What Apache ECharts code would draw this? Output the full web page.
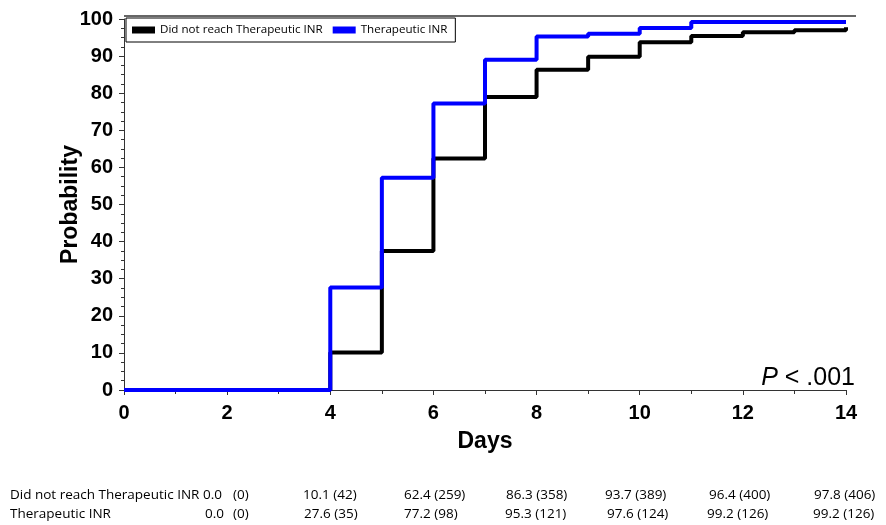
<!DOCTYPE html>
<html lang="en">
  <head>
    <meta charset="UTF-8" />
    <title>Time to therapeutic INR</title>
    <style>
      html, body { margin: 0; padding: 0; background: #fff; }
      #container { width: 886px; height: 525px; }
    </style>
    <script src="https://cdn.jsdelivr.net/npm/echarts@6.0.0/dist/echarts.min.js"></script>
  </head>
  <body>
    <div id="container"></div>
    <script>
      // step curves, value at each day (jump happens at that day)
      const days = [0, 1, 2, 3, 4, 5, 6, 7, 8, 9, 10, 11, 12, 13, 14]
      const notReached = [0, 0, 0, 0, 10.1, 37.5, 62.4, 79, 86.3, 89.8, 93.7, 95.4, 96.4, 97.0, 97.8]
      const reached = [0, 0, 0, 0, 27.6, 57.2, 77.2, 89, 95.3, 96.0, 97.6, 99.2, 99.2, 99.2, 99.2]

      // table under the chart
      const rowNames = ['Did not reach Therapeutic INR', 'Therapeutic INR']
      const tableNotReached = ['0.0', '(0)', '10.1 (42)', '62.4 (259)', '86.3 (358)', '93.7 (389)', '96.4 (400)', '97.8 (406)']
      const tableReached = ['0.0', '(0)', '27.6 (35)', '77.2 (98)', '95.3 (121)', '97.6 (124)', '99.2 (126)', '99.2 (126)']

      const chart = echarts.init(document.getElementById('container'))

      const boldFont = 'Liberation Sans'
      const tableFont = 'Open Sans'

      // column left edges for the table text
      const colX = [[203, 233, 303, 404, 506, 605, 709, 814], [205, 233, 304, 404, 505, 607, 707, 813]]
      const rowY = [498, 517]
      const tableGraphics = []
      rowNames.forEach(function (name, r) {
        tableGraphics.push({
          type: 'text', left: 10, top: rowY[r] - 10,
          style: { text: name, font: '13.5px "' + tableFont + '"', fill: '#000' }
        })
        const vals = r === 0 ? tableNotReached : tableReached
        vals.forEach(function (v, c) {
          tableGraphics.push({
            type: 'text', left: colX[r][c], top: rowY[r] - 10,
            style: { text: v, font: '13.5px "' + tableFont + '"', fill: '#000' }
          })
        })
      })

      const option = {
        animation: false,
        grid: { left: 124, right: 40, top: 19, bottom: 135 },
        legend: {
          left: 126,
          top: 18,
          orient: 'horizontal',
          icon: 'rect',
          itemWidth: 23,
          itemHeight: 7,
          itemGap: 10,
          padding: [6, 8, 6, 6],
          borderColor: '#000',
          borderWidth: 1,
          backgroundColor: '#fff',
          textStyle: { fontFamily: tableFont, fontSize: 11.6, color: '#000' },
          data: rowNames
        },
        xAxis: {
          type: 'value',
          min: 0,
          max: 14,
          interval: 2,
          name: 'Days',
          nameLocation: 'middle',
          nameGap: 40,
          nameMoveOverlap: false,
          nameTextStyle: { fontFamily: boldFont, fontWeight: 'bold', fontSize: 23, color: '#000' },
          axisLine: { show: true, lineStyle: { color: '#333', width: 1 } },
          axisTick: { show: true, length: 5, lineStyle: { color: '#333' } },
          minorTick: { show: true, splitNumber: 2, length: 4, lineStyle: { color: '#333' } },
          axisLabel: { fontFamily: boldFont, fontWeight: 'bold', fontSize: 20, color: '#000', margin: 13 },
          splitLine: { show: false }
        },
        yAxis: {
          type: 'value',
          min: 0,
          max: 100,
          interval: 10,
          name: 'Probability',
          nameLocation: 'middle',
          nameGap: 42,
          nameMoveOverlap: false,
          nameTextStyle: { fontFamily: boldFont, fontWeight: 'bold', fontSize: 23, color: '#000' },
          axisLine: { show: true, lineStyle: { color: '#333', width: 1 } },
          axisTick: { show: true, length: 5, lineStyle: { color: '#333' } },
          minorTick: { show: true, splitNumber: 4, length: 3, lineStyle: { color: '#333' } },
          axisLabel: { fontFamily: boldFont, fontWeight: 'bold', fontSize: 20, color: '#000', margin: 11 },
          splitLine: { show: false }
        },
        series: [
          {
            name: rowNames[0],
            type: 'line',
            step: 'end',
            showSymbol: false,
            symbol: 'none',
            color: '#000',
            lineStyle: { color: '#000', width: 4 },
            z: 2,
            data: days.map(function (d, i) { return [d, notReached[i]] })
          },
          {
            name: rowNames[1],
            type: 'line',
            step: 'end',
            showSymbol: false,
            symbol: 'none',
            color: '#0000ff',
            lineStyle: { color: '#0000ff', width: 4 },
            z: 3,
            data: days.map(function (d, i) { return [d, reached[i]] })
          }
        ],
        graphic: [
          {
            type: 'line',
            shape: { x1: 124, y1: 16, x2: 856, y2: 16 },
            style: { stroke: '#666', lineWidth: 2 }
          },
          {
            type: 'text',
            right: 31,
            top: 366,
            style: {
              text: '{i|P} < .001',
              font: '25px "' + boldFont + '"',
              fill: '#000',
              rich: {
                i: { fontStyle: 'italic', fontSize: 25, fontFamily: boldFont }
              }
            }
          }
        ].concat(tableGraphics)
      }

      chart.setOption(option)
    </script>
  </body>
</html>
